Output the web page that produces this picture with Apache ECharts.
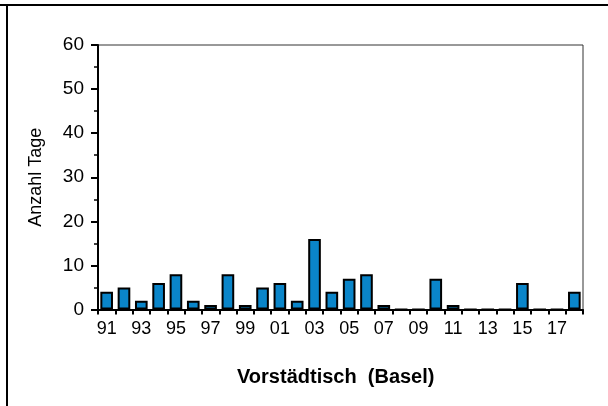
<!DOCTYPE html>
<html>
<head>
<meta charset="utf-8">
<script src="https://cdn.jsdelivr.net/npm/echarts@6/dist/echarts.min.js"></script>
<style>
html,body{margin:0;padding:0;background:#fff;}
#chart{width:608px;height:406px;}
</style>
</head>
<body>
<div id="chart"></div>
<script>
const years = ['91','92','93','94','95','96','97','98','99','00','01','02','03','04','05','06','07','08','09','10','11','12','13','14','15','16','17','18'];
const days = [4,5,2,6,8,2,1,8,1,5,6,2,16,4,7,8,1,0,0,7,1,0,0,0,6,0,0,4];
const yTicks = [0,10,20,30,40,50,60];
const titleText = 'Vorstädtisch  (Basel)';
const yName = 'Anzahl Tage';

const chart = echarts.init(document.getElementById('chart'), null, {renderer:'canvas'});
const font = 'Liberation Sans, Arial, sans-serif';
chart.setOption({
  animation:false,
  backgroundColor:'#fff',
  title:{
    text:titleText,
    left:232, top:362,
    textStyle:{fontFamily:font,fontSize:20,fontWeight:'bold',color:'#000'}
  },
  grid:{left:98,right:25,top:45,bottom:96.5,show:true,borderColor:'#333',borderWidth:1,backgroundColor:'transparent'},
  xAxis:{
    type:'category',
    data:years,
    boundaryGap:true,
    axisLine:{lineStyle:{color:'#000',width:2}},
    axisTick:{show:true,alignWithLabel:false,interval:0,length:5,lineStyle:{color:'#000',width:2}},
    axisLabel:{interval:1,margin:11,fontFamily:font,fontSize:18,color:'#000'}
  },
  yAxis:{
    type:'value',
    min:0,max:60,interval:10,
    name:yName,
    nameLocation:'middle',
    nameGap:53,
    nameTextStyle:{fontFamily:font,fontSize:18,color:'#000'},
    axisLine:{show:true,lineStyle:{color:'#000',width:2}},
    axisTick:{show:true,length:7,lineStyle:{color:'#000',width:2}},
    minorTick:{show:true,splitNumber:2,length:4,lineStyle:{color:'#000',width:1.5}},
    splitLine:{show:false},
    axisLabel:{margin:14,fontFamily:font,fontSize:19,color:'#000',
      formatter:function(v){return yTicks.indexOf(v)>=0?String(v):'';}}
  },
  series:[{
    type:'bar',
    data:days,
    barCategoryGap:'27%',
    itemStyle:{color:'#0A85C9',borderColor:'#000',borderWidth:2}
  }],
  graphic:[
    {type:'rect',shape:{x:0,y:4,width:608,height:2},style:{fill:'#000'},z:100},
    {type:'rect',shape:{x:6,y:4,width:2,height:402},style:{fill:'#000'},z:100}
  ]
});
</script>
</body>
</html>
